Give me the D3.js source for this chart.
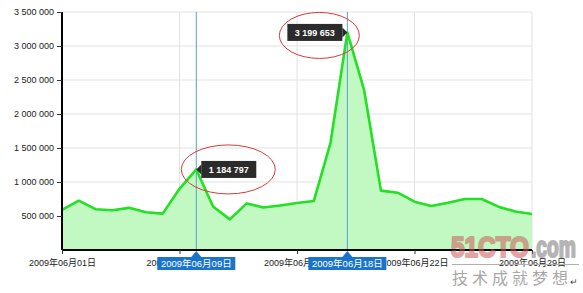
<!DOCTYPE html>
<html>
<head>
<meta charset="utf-8">
<script src="https://cdn.jsdelivr.net/npm/d3@7"></script>
<style>
  body { margin: 0; background: #fff; }
  svg { display: block; }
  text { font-family: Arial, "Liberation Sans", "Noto Sans CJK SC", sans-serif; }
</style>
</head>
<body>
<svg id="chart" width="583" height="293"></svg>
<script>
//------------------------------------------------------------------------------
//Data
//------------------------------------------------------------------------------
var days = [
  "2009-06-01", "2009-06-02", "2009-06-03", "2009-06-04", "2009-06-05",
  "2009-06-06", "2009-06-07", "2009-06-08", "2009-06-09", "2009-06-10",
  "2009-06-11", "2009-06-12", "2009-06-13", "2009-06-14", "2009-06-15",
  "2009-06-16", "2009-06-17", "2009-06-18", "2009-06-19", "2009-06-20",
  "2009-06-21", "2009-06-22", "2009-06-23", "2009-06-24", "2009-06-25",
  "2009-06-26", "2009-06-27", "2009-06-28", "2009-06-29"
];
var visits = [
  590000, 725000, 600000, 585000, 620000,
  555000, 535000, 900000, 1184797, 640000,
  450000, 685000, 625000, 655000, 690000,
  720000, 1580000, 3199653, 2350000, 873000,
  843000, 710000, 647000, 695000, 750000,
  750000, 637000, 565000, 530000
];
var yTicks = [500000, 1000000, 1500000, 2000000, 2500000, 3000000, 3500000];
var xTickDays = ["2009-06-01", "2009-06-08", "2009-06-15", "2009-06-22", "2009-06-29"];
var markerDays = ["2009-06-09", "2009-06-18"];
var markerTipSide = ["right", "left"];

//------------------------------------------------------------------------------
//Setup
//------------------------------------------------------------------------------
var svg = d3.select("#chart");
var margin = { left: 62, top: 12, right: 51, bottom: 43 };
var width = 583 - margin.left - margin.right;
var height = 293 - margin.top - margin.bottom;

var parse = d3.timeParse("%Y-%m-%d");
var fmtDay = d3.timeFormat("%Y年%m月%d日");
var numFmt = d3.formatLocale({ decimal: ".", thousands: " ", grouping: [3], currency: ["", ""] }).format(",d");

var data = days.map(function (d, i) { return { date: parse(d), value: visits[i] }; });

var x = d3.scaleTime()
  .domain([parse(days[0]), parse(days[days.length - 1])])
  .range([margin.left, margin.left + width]);
var y = d3.scaleLinear()
  .domain([0, 3500000])
  .range([margin.top + height, margin.top]);

//------------------------------------------------------------------------------
//Grid
//------------------------------------------------------------------------------
var grid = svg.append("g");
grid.selectAll("line.h").data(yTicks).enter().append("line")
  .attr("x1", margin.left).attr("x2", margin.left + width)
  .attr("y1", function (d) { return y(d); }).attr("y2", function (d) { return y(d); })
  .attr("stroke", "#e2e2e2").attr("stroke-width", 1);
grid.selectAll("line.v").data(xTickDays).enter().append("line")
  .attr("x1", function (d) { return x(parse(d)); }).attr("x2", function (d) { return x(parse(d)); })
  .attr("y1", margin.top).attr("y2", margin.top + height)
  .attr("stroke", "#e2e2e2").attr("stroke-width", 1);

//------------------------------------------------------------------------------
//Area + line
//------------------------------------------------------------------------------
var area = d3.area()
  .x(function (d) { return x(d.date); })
  .y0(y(0))
  .y1(function (d) { return y(d.value); });
var line = d3.line()
  .x(function (d) { return x(d.date); })
  .y(function (d) { return y(d.value); });

svg.append("path").datum(data)
  .attr("d", area)
  .attr("fill", "#c2f9c2");

// marker lines behind the curve
var markers = svg.append("g");
markers.selectAll("line").data(markerDays).enter().append("line")
  .attr("x1", function (d) { return x(parse(d)); }).attr("x2", function (d) { return x(parse(d)); })
  .attr("y1", margin.top).attr("y2", margin.top + height)
  .attr("stroke", "#5c9fd0").attr("stroke-width", 1);

svg.append("path").datum(data)
  .attr("d", line)
  .attr("fill", "none")
  .attr("stroke", "#22e022")
  .attr("stroke-width", 2.6)
  .attr("stroke-linejoin", "round");

//------------------------------------------------------------------------------
//Axes
//------------------------------------------------------------------------------
var yAxis = svg.append("g")
  .attr("transform", "translate(" + margin.left + ",0)")
  .call(d3.axisLeft(y).tickValues(yTicks).tickFormat(numFmt).tickSize(5).tickPadding(3));
yAxis.select(".domain").attr("stroke", "#000").attr("stroke-width", 2).attr("d", "M0," + y(0) + "V" + margin.top);
yAxis.selectAll(".tick line").attr("stroke", "#333");
yAxis.selectAll(".tick text").attr("font-size", 9).attr("fill", "#222")
  .attr("font-family", "Arial, 'Liberation Sans', sans-serif");

var xAxis = svg.append("g")
  .attr("transform", "translate(0," + y(0) + ")")
  .call(d3.axisBottom(x).tickValues(xTickDays.map(parse)).tickFormat(fmtDay).tickSize(4).tickPadding(6));
xAxis.select(".domain").attr("stroke", "#000").attr("stroke-width", 2).attr("d", "M" + margin.left + ",0H" + (margin.left + width));
xAxis.selectAll(".tick line").attr("stroke", "#333");
xAxis.selectAll(".tick text").attr("font-size", 9).attr("fill", "#222");

//------------------------------------------------------------------------------
//Watermark (behind the marker labels)
//------------------------------------------------------------------------------
var wm = svg.append("g");
wm.append("line")
  .attr("x1", 452).attr("x2", 579).attr("y1", 264.5).attr("y2", 264.5)
  .attr("stroke", "#b0b0b0").attr("stroke-width", 1);
var logo = wm.append("g").attr("opacity", 0.55);
logo.append("text").attr("x", 451).attr("y", 257)
  .attr("textLength", 78).attr("lengthAdjust", "spacingAndGlyphs")
  .attr("font-size", 30).attr("font-weight", "bold")
  .attr("font-family", "'DejaVu Sans', sans-serif")
  .attr("fill", "#cc5a5a").attr("stroke", "#cc5a5a").attr("stroke-width", 2.2)
  .attr("stroke-linejoin", "round").text("51CTO");
logo.append("text").attr("x", 531).attr("y", 257)
  .attr("textLength", 45).attr("lengthAdjust", "spacingAndGlyphs")
  .attr("font-size", 30).attr("font-weight", "bold")
  .attr("font-family", "'DejaVu Sans', sans-serif")
  .attr("fill", "#777").attr("stroke", "#777").attr("stroke-width", 2.2)
  .attr("stroke-linejoin", "round").text(".com");
wm.append("text").attr("x", 452).attr("y", 284)
  .attr("textLength", 116).attr("lengthAdjust", "spacing")
  .attr("font-size", 16).attr("font-family", "'Noto Sans CJK SC', sans-serif")
  .attr("fill", "#a8a8a8").text("技术成就梦想");
wm.append("text").attr("x", 570).attr("y", 285)
  .attr("font-size", 9).attr("fill", "#444").text("↵");

//------------------------------------------------------------------------------
//Marker labels on the x axis
//------------------------------------------------------------------------------
var boxW = 78, boxH = 13;
var mLab = svg.append("g").selectAll("g").data(markerDays).enter().append("g")
  .attr("transform", function (d) { return "translate(" + x(parse(d)) + "," + y(0) + ")"; });
mLab.append("path")
  .attr("d", "M0,1L-5,7H5Z")
  .attr("fill", "#1a74cc");
mLab.append("rect")
  .attr("x", -boxW / 2).attr("y", 7).attr("width", boxW).attr("height", boxH)
  .attr("fill", "#1a74cc");
mLab.append("text")
  .attr("x", 0).attr("y", 7 + boxH / 2 + 3.3)
  .attr("text-anchor", "middle").attr("font-size", 9.5).attr("fill", "#fff")
  .text(function (d) { return fmtDay(parse(d)); });

//------------------------------------------------------------------------------
//Value tooltips + red annotation ellipses
//------------------------------------------------------------------------------
var tipW = 55, tipH = 17;
markerDays.forEach(function (d, i) {
  var pt = data.find(function (e) { return +e.date === +parse(d); });
  var px = x(pt.date), py = y(pt.value);
  var side = markerTipSide[i];
  var g = svg.append("g");
  var bx = side === "right" ? px + 5 : px - 5 - tipW;
  var arrow = side === "right"
    ? "M" + px + "," + py + "L" + (px + 5) + "," + (py - 5) + "V" + (py + 5) + "Z"
    : "M" + px + "," + py + "L" + (px - 5) + "," + (py - 5) + "V" + (py + 5) + "Z";
  g.append("path").attr("d", arrow).attr("fill", "#2b2b2b");
  g.append("rect")
    .attr("x", bx).attr("y", py - tipH / 2).attr("width", tipW).attr("height", tipH)
    .attr("fill", "#2b2b2b");
  g.append("text")
    .attr("x", bx + tipW / 2).attr("y", py + 3.3)
    .attr("text-anchor", "middle").attr("font-size", 9).attr("font-weight", "bold")
    .attr("fill", "#fff").text(numFmt(pt.value));
  // hand drawn style ellipse round the tooltip
  var cx = side === "right" ? px + 32 : px - 28;
  svg.append("ellipse")
    .attr("cx", cx).attr("cy", py + (side === "right" ? 0 : 3))
    .attr("rx", side === "right" ? 47 : 40).attr("ry", side === "right" ? 24.5 : 23)
    .attr("fill", "none").attr("stroke", "#d83a3a").attr("stroke-width", 1);
});
</script>
</body>
</html>
